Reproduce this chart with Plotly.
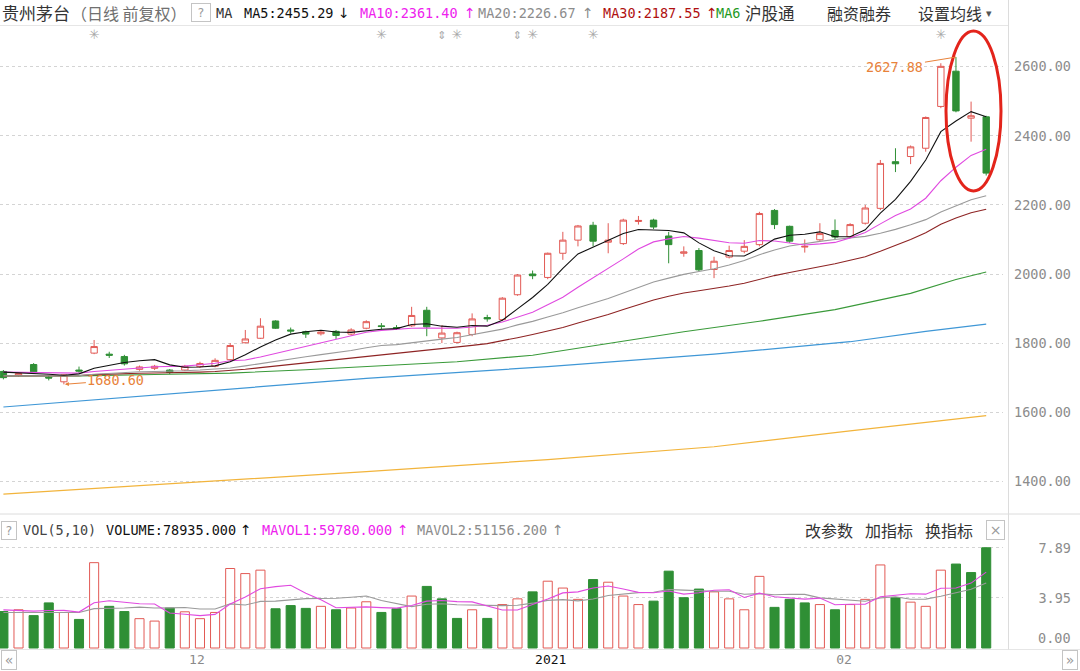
import plotly.graph_objects as go

# ---------------- data ----------------
bars = list(range(66))
opens = [1718, 1707, 1738, 1701, 1688, 1722, 1771, 1768, 1761, 1724,
         1727, 1722, 1722, 1732, 1733, 1752, 1801, 1814, 1864, 1838,
         1833, 1827, 1834, 1826, 1843, 1850, 1845, 1850, 1895, 1815,
         1802, 1825, 1874, 1868, 1940, 2000, 1990, 2060, 2098, 2141,
         2092, 2088, 2152, 2156, 2110, 2060, 2068, 2013, 2049, 2066,
         2085, 2184, 2138, 2078, 2099, 2126, 2108, 2147, 2190, 2325,
         2340, 2364, 2485, 2587, 2451, 2455]
highs = [1722, 1716, 1742, 1707, 1710, 1732, 1809, 1775, 1766, 1735,
         1737, 1725, 1737, 1746, 1756, 1800, 1838, 1872, 1866, 1845,
         1836, 1835, 1838, 1843, 1866, 1858, 1852, 1905, 1905, 1852,
         1833, 1886, 1882, 1933, 2000, 2010, 2062, 2122, 2142, 2151,
         2147, 2160, 2168, 2160, 2122, 2080, 2075, 2050, 2082, 2098,
         2180, 2188, 2140, 2100, 2147, 2158, 2147, 2200, 2330, 2364,
         2372, 2456, 2610, 2627.88, 2499, 2458]
lows = [1695, 1703, 1712, 1692, 1680.6, 1712, 1768, 1757, 1735, 1720,
        1722, 1710, 1719, 1728, 1730, 1748, 1799, 1812, 1841, 1828,
        1815, 1822, 1812, 1822, 1840, 1840, 1838, 1847, 1820, 1800,
        1799, 1820, 1862, 1865, 1937, 1985, 1985, 2041, 2080, 2080,
        2060, 2084, 2143, 2130, 2031, 2050, 2008, 1988, 2045, 2060,
        2080, 2130, 2090, 2062, 2096, 2100, 2104, 2143, 2185, 2295,
        2318, 2354, 2480, 2468, 2383, 2285]
closes = [1700, 1712, 1717, 1699, 1708, 1719, 1790, 1765, 1740, 1731,
          1733, 1715, 1733, 1741, 1750, 1793, 1812, 1849, 1843, 1835,
          1826, 1832, 1822, 1838, 1862, 1848, 1842, 1880, 1847, 1829,
          1830, 1870, 1870, 1930, 1997, 1995, 2060, 2098, 2139, 2095,
          2098, 2156, 2155, 2136, 2085, 2064, 2012, 2037, 2068, 2080,
          2175, 2143, 2095, 2080, 2117, 2107, 2143, 2191, 2320, 2319,
          2368, 2453, 2601, 2472, 2458, 2292]

# volume in 10k lots, and whether the bar is drawn red (1) or green (0)
volume = [2.87, 3.01, 2.55, 3.55, 2.80, 2.25, 6.72, 3.28, 2.87, 2.31,
          2.12, 3.15, 2.85, 2.31, 2.80, 6.26, 5.86, 6.13, 3.09, 3.34,
          3.12, 3.28, 3.01, 3.15, 3.64, 2.80, 3.09, 4.09, 4.85, 3.87,
          2.33, 3.01, 2.33, 3.42, 3.87, 4.42, 5.26, 4.72, 3.83, 5.39,
          5.18, 4.09, 3.42, 3.69, 6.05, 3.96, 4.64, 4.42, 3.87, 3.01,
          5.64, 3.20, 3.83, 3.55, 3.42, 3.01, 3.42, 3.83, 6.54, 3.96,
          3.61, 3.28, 6.13, 6.61, 5.94, 7.8935]
vol_up = [0, 1, 0, 0, 1, 0, 1, 0, 0, 1,
          1, 0, 1, 1, 1, 1, 1, 1, 0, 0,
          0, 1, 0, 1, 1, 0, 0, 1, 0, 0,
          0, 1, 0, 1, 1, 0, 1, 1, 1, 0,
          1, 1, 1, 0, 0, 0, 0, 1, 1, 1,
          1, 0, 0, 0, 1, 0, 1, 1, 1, 0,
          1, 1, 1, 0, 0, 0]

ma5 = [1716, 1714, 1714, 1710, 1707, 1711, 1727, 1736, 1744, 1749,
       1752, 1737, 1730, 1731, 1734, 1746, 1766, 1789, 1809, 1826,
       1833, 1837, 1832, 1831, 1836, 1840, 1842, 1854, 1856, 1849,
       1846, 1851, 1849, 1866, 1899, 1932, 1970, 2016, 2058, 2077,
       2098, 2117, 2129, 2128, 2126, 2119, 2090, 2067, 2053, 2052,
       2074, 2101, 2112, 2115, 2122, 2108, 2108, 2128, 2176, 2216,
       2268, 2330, 2412, 2443, 2470, 2455.29]
ma10 = [1716, 1715, 1714, 1713, 1712, 1713, 1718, 1722, 1726, 1728.1,
        1731.4, 1731.7, 1733.3, 1737.5, 1741.7, 1749.1, 1751.3, 1759.7, 1770, 1780.4,
        1789.7, 1801.4, 1810.3, 1820, 1831.2, 1836.7, 1839.7, 1842.8, 1843.2, 1842.6,
        1843, 1846.8, 1851.6, 1860.8, 1874.3, 1889, 1910.8, 1932.6, 1961.8, 1988.4,
        2015.2, 2043.8, 2072.3, 2092.9, 2101.7, 2108.6, 2103.8, 2097.7, 2090.6, 2089.1,
        2096.8, 2095.5, 2089.5, 2083.9, 2087.1, 2091.4, 2104.5, 2119.9, 2145.1, 2169,
        2188.3, 2219.3, 2269.9, 2309.1, 2343.2, 2361.40]
ma20 = [1705, 1705, 1706, 1705, 1706, 1706, 1710, 1713, 1715, 1717,
        1718, 1718, 1720, 1722, 1724, 1728, 1734, 1741, 1748, 1754.3,
        1760.6, 1766.6, 1771.8, 1778.8, 1786.5, 1792.9, 1795.5, 1801.3, 1806.6, 1811.5,
        1816.4, 1824.1, 1831, 1840.4, 1852.8, 1862.9, 1875.3, 1887.7, 1902.5, 1915.5,
        1929.1, 1945.3, 1962, 1976.9, 1988, 1998.8, 2007.3, 2015.2, 2026.2, 2038.8,
        2056, 2069.7, 2080.9, 2088.4, 2094.4, 2100, 2104.2, 2108.8, 2117.9, 2129.1,
        2142.6, 2157.4, 2179.7, 2196.5, 2215.2, 2226.67]
ma30 = [1704.8, 1705.1, 1705.5, 1705.3, 1705.4, 1705.8, 1708.7, 1710.7, 1711.8, 1712.7,
        1713.6, 1714, 1714.9, 1716.1, 1717.6, 1720.5, 1724.1, 1728.9, 1733.5, 1737.8,
        1741.9, 1746.1, 1750, 1754.4, 1759.7, 1764.4, 1769, 1774.8, 1779.6, 1783.7,
        1788, 1793.3, 1798.4, 1806.1, 1815.7, 1824.9, 1833.9, 1845, 1858.3, 1870.5,
        1882.6, 1897.3, 1911.4, 1924.6, 1935.7, 1944.8, 1951.4, 1957.7, 1965.2, 1973.4,
        1985, 1995.4, 2004.5, 2012.5, 2021, 2029.7, 2039.7, 2050.1, 2065.8, 2082.2,
        2100.1, 2119.5, 2143.9, 2162, 2177.3, 2187.55]
ma60_x = [0, 5, 10, 15, 20, 25, 30, 35, 40, 45, 50, 55, 60, 63, 65]
ma60 = [1705, 1705, 1709, 1713, 1723, 1735, 1746, 1765, 1798, 1833, 1863, 1897, 1944, 1984, 2006]
ma120_x = [0, 12, 24, 36, 47, 56, 61, 65]
ma120 = [1615, 1656, 1698, 1732, 1768, 1804, 1834, 1855]
ma250_x = [0, 12, 24, 36, 47, 56, 65]
ma250 = [1363, 1395, 1428, 1463, 1500, 1546, 1590]

mavol5 = [3.0, 2.95, 2.9, 2.95, 2.96, 2.83, 3.57, 3.72, 3.58, 3.49,
          3.46, 2.75, 2.66, 2.55, 2.65, 3.47, 4.02, 4.67, 4.83, 4.94,
          4.31, 3.79, 3.17, 3.18, 3.24, 3.18, 3.14, 3.35, 3.69, 3.74,
          3.65, 3.63, 3.28, 2.99, 2.99, 3.41, 3.86, 4.34, 4.42, 4.72,
          4.88, 4.64, 4.38, 4.35, 4.49, 4.24, 4.35, 4.55, 4.59, 3.98,
          4.32, 4.03, 3.91, 3.85, 3.93, 3.40, 3.45, 3.45, 4.04, 4.15,
          4.27, 4.24, 4.70, 4.72, 5.11, 5.978]
mavol10 = [2.8, 2.8, 2.8, 2.85, 2.85, 2.8, 3.1, 3.1, 3.15, 3.22,
           3.15, 3.16, 3.19, 3.07, 3.07, 3.47, 3.38, 3.67, 3.69, 3.79,
           3.89, 3.90, 3.92, 4.00, 4.09, 3.74, 3.47, 3.26, 3.44, 3.49,
           3.41, 3.38, 3.32, 3.34, 3.37, 3.53, 3.75, 3.81, 3.71, 3.86,
           4.14, 4.25, 4.36, 4.39, 4.61, 4.56, 4.50, 4.47, 4.47, 4.23,
           4.28, 4.19, 4.23, 4.22, 3.95, 3.86, 3.74, 3.68, 3.95, 4.04,
           3.84, 3.85, 4.08, 4.38, 4.63, 5.1156]

price_ticks = [1400, 1600, 1800, 2000, 2200, 2400, 2600]
price_labels = ["1400.00", "1600.00", "1800.00", "2000.00", "2200.00", "2400.00", "2600.00"]
vol_ticks = [3.95, 7.89]
vol_labels = ["3.95", "7.89"]
vol_min_label = "0.00"
month_pos = [12.8, 36.2, 55.6]
month_labels = ["12", "2021", "02"]
month_colors = ["#8a8a8a", "#111111", "#8a8a8a"]
event_bars = [6, 25, 30, 35, 39, 62]
flag_bars = [29, 34]
high_bar, high_val = 63, 2627.88
low_bar, low_val = 4, 1680.60

# ---------------- style ----------------
W, H = 1080, 671
RED = "#e25a55"
GREEN = "#2f8f35"
MONO = "DejaVu Sans Mono"
CJK = "Noto Sans CJK SC"
ORANGE = "#e8823a"


def px(x):
    return x / W


def py(y):
    return 1 - y / H


fig = go.Figure()

fig.add_trace(go.Candlestick(
    x=bars, open=opens, high=highs, low=lows, close=closes,
    increasing=dict(line=dict(color=RED, width=1), fillcolor="white"),
    decreasing=dict(line=dict(color=GREEN, width=1), fillcolor=GREEN),
    whiskerwidth=0, xaxis="x", yaxis="y", showlegend=False, hoverinfo="skip"))

ma_specs = [
    (ma250_x, ma250, "#f2b43c", 1.2),
    (ma120_x, ma120, "#3f97d6", 1.2),
    (ma60_x, ma60, "#3a9a3a", 1.1),
    (bars, ma30, "#8e2424", 1.1),
    (bars, ma20, "#9a9a9a", 1.1),
    (bars, ma10, "#e04ae0", 1.1),
    (bars, ma5, "#111111", 1.1),
]
for xs, ys, col, wd in ma_specs:
    fig.add_trace(go.Scatter(x=xs, y=ys, mode="lines", line=dict(color=col, width=wd),
                             xaxis="x", yaxis="y", showlegend=False, hoverinfo="skip"))

# event markers along the top of the price panel
fig.add_trace(go.Scatter(x=event_bars, y=[2689] * len(event_bars), mode="text", text=["✳"] * len(event_bars),
                         textfont=dict(color="#a8a8a8", size=13, family="DejaVu Sans"),
                         xaxis="x", yaxis="y", showlegend=False, hoverinfo="skip"))
fig.add_trace(go.Scatter(x=flag_bars, y=[2689] * len(flag_bars), mode="text", text=["⇕"] * len(flag_bars),
                         textfont=dict(color="#a8a8a8", size=11, family="DejaVu Sans"),
                         xaxis="x", yaxis="y", showlegend=False, hoverinfo="skip"))

# volume
fig.add_trace(go.Bar(
    x=bars, y=volume, width=0.6,
    marker=dict(color=["white" if u else GREEN for u in vol_up],
                line=dict(color=[RED if u else GREEN for u in vol_up], width=1)),
    xaxis="x2", yaxis="y2", showlegend=False, hoverinfo="skip"))
fig.add_trace(go.Scatter(x=bars, y=mavol10, mode="lines", line=dict(color="#9a9a9a", width=1.1),
                         xaxis="x2", yaxis="y2", showlegend=False, hoverinfo="skip"))
fig.add_trace(go.Scatter(x=bars, y=mavol5, mode="lines", line=dict(color="#e04ae0", width=1.1),
                         xaxis="x2", yaxis="y2", showlegend=False, hoverinfo="skip"))

PLOT_R = 1003
SPACING = 15.12
x0 = -3.4 / SPACING
x1 = x0 + PLOT_R / SPACING

main_top, main_bot = 28, 512
ppu = 69.1 / 200.0
p_top = 2600 + (66.7 - main_top) / ppu
p_bot = 2600 - (main_bot - 66.7) / ppu
vol_top, vol_bot, vol_zero, vpu = 540, 650, 648, 12.7
v_top = (vol_zero - vol_top) / vpu
v_bot = (vol_zero - vol_bot) / vpu

nb = "\u00a0"
vol_text = [nb * (7 - len(t)) + t for t in vol_labels]
month_text = [f"<span style='color:{c}'>{t}</span>" for t, c in zip(month_labels, month_colors)]

fig.update_layout(
    width=W, height=H, margin=dict(l=0, r=0, t=0, b=0, autoexpand=False),
    paper_bgcolor="white", plot_bgcolor="white",
    boxgap=0.4, bargap=0.4,
    font=dict(family=MONO, size=13, color="#555"),
    xaxis=dict(domain=[0, px(PLOT_R)], range=[x0, x1], showticklabels=False, showgrid=False,
               zeroline=False, showline=False, anchor="y", rangeslider=dict(visible=False),
               fixedrange=True),
    yaxis=dict(domain=[py(main_bot), py(main_top)], range=[p_bot, p_top], side="right",
               tickmode="array", tickvals=price_ticks, ticktext=price_labels,
               tickfont=dict(family=MONO, size=13.5, color="#8c8c8c"), ticks="", ticklabelstandoff=10,
               showgrid=True, gridcolor="#d4d4d4", griddash="dot", gridwidth=1,
               zeroline=False, showline=False, anchor="x"),
    xaxis2=dict(domain=[0, px(PLOT_R)], range=[x0, x1], matches="x", anchor="y2",
                tickmode="array", tickvals=month_pos, ticktext=month_text,
                tickfont=dict(family=MONO, size=13, color="#8a8a8a"), ticks="",
                showgrid=False, zeroline=False, showline=False),
    yaxis2=dict(domain=[py(vol_bot), py(vol_top)], range=[v_bot, v_top], side="right", anchor="x2",
                tickmode="array", tickvals=vol_ticks, ticktext=vol_text,
                tickfont=dict(family=MONO, size=13.5, color="#8c8c8c"), ticks="", ticklabelstandoff=10,
                showgrid=True, gridcolor="#d4d4d4", griddash="dot", gridwidth=1,
                zeroline=False, showline=False),
)

shapes = [
    dict(type="line", xref="paper", yref="paper", x0=0, x1=px(1008), y0=py(25.5), y1=py(25.5),
         line=dict(color="#e6e6e6", width=1)),
    dict(type="line", xref="paper", yref="paper", x0=0, x1=1, y0=py(514), y1=py(514),
         line=dict(color="#dcdcdc", width=1)),
    dict(type="line", xref="paper", yref="paper", x0=0, x1=1, y0=py(649.5), y1=py(649.5),
         line=dict(color="#e6e6e6", width=1)),
    dict(type="line", xref="paper", yref="paper", x0=px(1008.5), x1=px(1008.5), y0=py(0), y1=py(649.5),
         line=dict(color="#dcdcdc", width=1)),
    dict(type="circle", xref="paper", yref="paper", x0=px(946), x1=px(1001), y0=py(191), y1=py(31),
         line=dict(color="#e3241b", width=3)),
]
fig.update_layout(shapes=shapes)

ann = []


def txt(x, y, s, color="#333", family=MONO, size=13.5, anchor="left"):
    ann.append(dict(x=px(x), y=py(y), xref="paper", yref="paper", text=s, showarrow=False,
                    xanchor=anchor, yanchor="middle", font=dict(family=family, size=size, color=color)))


def box(xc, yc, s, w, h, size=12):
    ann.append(dict(x=px(xc), y=py(yc), xref="paper", yref="paper", text=s, showarrow=False,
                    xanchor="center", yanchor="middle", width=w, height=h,
                    bordercolor="#c4c4c4", borderwidth=1, borderpad=0,
                    font=dict(family="DejaVu Sans", size=size, color="#9a9a9a")))


HY = 12.5
txt(0, HY, "贵州茅台", "#333", CJK, 17)
txt(69, HY, "（日线 前复权）", "#707070", CJK, 16)
box(201, HY + 0.5, "?", 18, 17)
txt(214, HY, "MA", "#333")
txt(242, HY, "MA5:2455.29", "#111")
txt(336, HY, "↓", "#111", "DejaVu Sans", 14)
txt(358, HY, "MA10:2361.40", "#ee22ee")
txt(462, HY, "↑", "#ee22ee", "DejaVu Sans", 14)
txt(476, HY, "MA20:2226.67", "#8c8c8c")
txt(580, HY, "↑", "#8c8c8c", "DejaVu Sans", 14)
txt(601, HY, "MA30:2187.55", "#b01010")
txt(704, HY, "↑", "#b01010", "DejaVu Sans", 14)
txt(714, HY, "MA6", "#1e9a1e")
txt(743, HY, "沪股通", "#333", CJK, 16.5)
txt(825, HY, "融资融券", "#333", CJK, 16)
txt(916, HY, "设置均线", "#333", CJK, 16)
txt(984, HY + 1, "▾", "#555", "DejaVu Sans", 11)

VY = 530
box(9, VY, "?", 14, 17)
txt(21, VY, "VOL(5,10)", "#444")
txt(104, VY, "VOLUME:78935.000", "#111")
txt(238, VY, "↑", "#111", "DejaVu Sans", 14)
txt(260, VY, "MAVOL1:59780.000", "#ee22ee")
txt(395, VY, "↑", "#ee22ee", "DejaVu Sans", 14)
txt(415, VY, "MAVOL2:51156.200", "#8c8c8c")
txt(550, VY, "↑", "#8c8c8c", "DejaVu Sans", 14)
txt(803, VY, "改参数", "#333", CJK, 16)
txt(863, VY, "加指标", "#333", CJK, 16)
txt(923, VY, "换指标", "#333", CJK, 16)
box(995.5, VY, "×", 17, 18, 14)

# bottom value label of the volume axis (drawn lifted inside the panel, as in the original)
txt(1073, 638, vol_min_label, "#8c8c8c", MONO, 13.5, anchor="right")

box(9, 660, "«", 14, 18, 14)
box(1070, 660, "»", 14, 18, 14)

# high / low markers
ann.append(dict(x=high_bar, y=high_val, xref="x", yref="y", text=f"{high_val:.2f}", showarrow=True,
                arrowhead=0, arrowwidth=1, arrowcolor=ORANGE, ax=-61, ay=10, standoff=0,
                font=dict(family=MONO, size=13.5, color=ORANGE)))
ann.append(dict(x=low_bar, y=low_val, xref="x", yref="y", text=f"{low_val:.2f}", showarrow=True,
                arrowhead=2, arrowsize=0.8, arrowwidth=1, arrowcolor=ORANGE, ax=52, ay=-4, standoff=1,
                font=dict(family=MONO, size=13.5, color=ORANGE)))

fig.update_layout(annotations=ann)
fig.write_html("out.html", config={"displayModeBar": False},
               post_script="document.body.style.margin='0px';document.body.style.padding='0px';")
